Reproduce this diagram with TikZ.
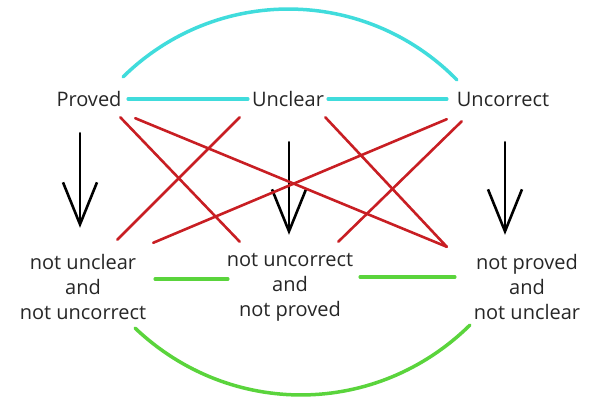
\documentclass[tikz,border=0pt]{standalone}
\usepackage{fontspec}
\setmainfont{Open Sans}
\usepackage{tikz}
\usetikzlibrary{arrows.meta, calc}
\definecolor{cyanline}{RGB}{64,220,220}
\definecolor{redline}{RGB}{200,30,35}
\definecolor{greenline}{RGB}{90,212,60}

\begin{document}
\begin{tikzpicture}[x=1pt, y=-1pt, line cap=round,
    every node/.style={inner sep=0pt, font=\fontsize{20}{25}\selectfont, text=black!85},
    topbox/.style={minimum height=36pt},
    botbox/.style={align=center, minimum height=80pt},
    cyanedge/.style={cyanline, line width=3.5pt},
    rededge/.style={redline, line width=2.6pt},
    greenedge/.style={greenline, line width=3.5pt},
    bigarrow/.style={-{Straight Barb[length=42pt, width=34pt, line width=2.6pt]}, line width=2.6pt}]
    \useasboundingbox (0,0) rectangle (591,399);

    % Top row (y=99)
    \node[topbox, minimum width=78pt] (proved) at (89, 99) {Proved};
    \node[topbox, minimum width=80pt] (unclear) at (288, 99) {Unclear};
    \node[topbox, minimum width=112pt] (uncorrect) at (503, 99) {Uncorrect};

    % Bottom row (y=287)
    \node[botbox, minimum width=140pt] (notuncl) at (83, 287) {not unclear\\and\\not uncorrect};
    \node[botbox, minimum width=134pt] (notunco) at (290, 287) {not uncorrect\\and\\not proved};
    \node[botbox, minimum width=122pt] (notprov) at (527, 287) {not proved\\and\\not unclear};

    % Down arrows
    \draw[bigarrow] ($(proved.south)+(-9,16)$) -- ($(notuncl.north)+(-3,-19)$);
    \draw[bigarrow] ($(unclear.south)+(1,25)$) -- ($(notunco.north)+(-1,-12)$);
    \draw[bigarrow] ($(uncorrect.south)+(2,25)$) -- ($(notprov.north)+(-22,-12)$);

    % Cyan links
    \draw[cyanedge] (proved.east) -- (unclear.west);
    \draw[cyanedge] (unclear.east) -- (uncorrect.west);
    \draw[cyanedge] ($(proved.north east)+(-5,-4)$) to[bend left=45] ($(uncorrect.north west)+(10,-1)$);

    % Red crosses
    \draw[rededge] ($(proved.south east)+(-8,0)$) -- ($(notunco.north west)+(17,-5)$);
    \draw[rededge] ($(proved.south east)+(7,1)$) -- ($(notprov.north west)+(-19,0)$);
    \draw[rededge] ($(unclear.south west)+(-8,0)$) -- ($(notuncl.north east)+(-36,-7)$);
    \draw[rededge] ($(unclear.south east)+(-3,0)$) -- ($(notprov.north west)+(-19,0)$);
    \draw[rededge] ($(uncorrect.south west)+(0,2)$) -- ($(notuncl.north east)+(0,-4)$);
    \draw[rededge] ($(uncorrect.south west)+(15,4)$) -- ($(notunco.north east)+(-19,-5)$);

    % Green links
    \draw[greenedge] ($(notuncl.east)+(2,-8)$) -- ($(notunco.west)+(5,-8)$);
    \draw[greenedge] ($(notunco.east)+(3,-10)$) -- ($(notprov.west)+(-11,-10)$);
    \draw[greenedge] ($(notuncl.south east)+(-18,1)$) to[bend right=44] ($(notprov.south west)+(4,-2)$);
\end{tikzpicture}
\end{document}
